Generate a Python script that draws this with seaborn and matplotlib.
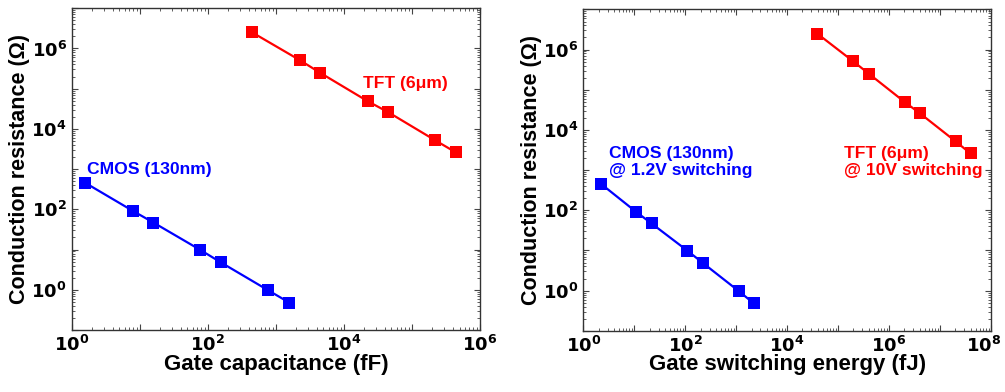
import matplotlib
matplotlib.use('Agg')
import math
import matplotlib.pyplot as plt
import matplotlib.ticker as mticker
import matplotlib.transforms as mtransforms
import seaborn as sns
import pandas as pd

# values (log-log)
cmos_cap = [1.57, 7.9, 15.9, 77, 156, 775, 1580]
cmos_energy = [2.2, 10.8, 21.9, 110, 226, 1130, 2230]
cmos_res = [460, 92, 47, 9.9, 4.8, 0.97, 0.48]

tft_cap = [450, 2260, 4450, 22300, 44900, 220000, 443000]
tft_energy = [39000, 198000, 403000, 2.05e6, 4.03e6, 2.02e7, 3.98e7]
tft_res = [2.5e6, 5.1e5, 2.5e5, 4.9e4, 2.6e4, 5.2e3, 2.6e3]

sns.set_style('ticks')
plt.rcParams['font.family'] = ['Liberation Sans', 'DejaVu Sans']
plt.rcParams['font.weight'] = 'bold'
plt.rcParams['mathtext.default'] = 'bf'
plt.rcParams['text.color'] = 'black'
plt.rcParams['axes.labelcolor'] = 'black'
plt.rcParams['xtick.labelcolor'] = 'black'
plt.rcParams['ytick.labelcolor'] = 'black'

BLUE = '#0000ff'
RED = '#ff0000'

df = pd.DataFrame({
    'cap': cmos_cap + tft_cap,
    'energy': cmos_energy + tft_energy,
    'res': cmos_res + tft_res,
    'tech': ['CMOS'] * len(cmos_cap) + ['TFT'] * len(tft_cap),
})

fig = plt.figure(figsize=(10.05, 3.92), dpi=100)
ax1 = fig.add_axes([0.0713, 0.158, 0.4063, 0.821])
ax2 = fig.add_axes([0.5804, 0.156, 0.4056, 0.820])


def even_decades(v, p):
    e = round(math.log10(v))
    return r'$\mathbf{10^{%d}}$' % e if e % 2 == 0 else ''


def style_axis(ax, xmax, xlabel):
    ax.set_xscale('log')
    ax.set_yscale('log')
    ax.set_xlim(1, xmax)
    ax.set_ylim(1e-1, 1e7)
    for a in (ax.xaxis, ax.yaxis):
        a.set_major_locator(mticker.LogLocator(base=10, numticks=20))
        a.set_minor_locator(mticker.LogLocator(base=10, subs=range(2, 10), numticks=50))
        a.set_major_formatter(mticker.FuncFormatter(even_decades))
    ax.tick_params(which='both', direction='in', top=True, right=True,
                   labelsize=13, color='#444444')
    ax.tick_params(which='major', length=4, width=0.8)
    ax.tick_params(which='minor', length=2.5, width=0.6)
    for s in ax.spines.values():
        s.set_linewidth(1.0)
        s.set_color('#333333')
    ax.set_xlabel(xlabel, fontsize=16, fontweight='bold', labelpad=-1)
    ax.set_ylabel('Conduction resistance (Ω)', fontsize=15.5, fontweight='bold', labelpad=1)
    ax.grid(False)


for ax, xcol in [(ax1, 'cap'), (ax2, 'energy')]:
    sns.lineplot(data=df, x=xcol, y='res', hue='tech', palette={'CMOS': BLUE, 'TFT': RED},
                 marker='s', markersize=8, markeredgewidth=0, linewidth=1.6,
                 legend=False, ax=ax, estimator=None, sort=False)

style_axis(ax1, 1e6, 'Gate capacitance (fF)')
style_axis(ax2, 1e8, 'Gate switching energy (fJ)')

ax1.text(1.66, 1000, 'CMOS (130nm)', color=BLUE, fontsize=12.6, fontweight='bold',
         ha='left', va='center')
ax1.text(18800, 1.38e5, 'TFT (6μm)', color=RED, fontsize=12.6, fontweight='bold',
         ha='left', va='center')
ax2.text(3.24, 1610, 'CMOS (130nm)\n@ 1.2V switching', color=BLUE, fontsize=12.6,
         fontweight='bold', ha='left', va='center')
ax2.text(1.32e5, 1610, 'TFT (6μm)\n@ 10V switching', color=RED, fontsize=12.6,
         fontweight='bold', ha='left', va='center')

# the 10^8 label sits right at the figure edge; nudge it inwards a little
fig.canvas.draw()
shift = mtransforms.ScaledTranslation(-7 / 100, 0, fig.dpi_scale_trans)
for lbl in ax2.get_xticklabels():
    if '{8}' in lbl.get_text():
        lbl.set_transform(lbl.get_transform() + shift)

fig.savefig('out.png', dpi=100)
